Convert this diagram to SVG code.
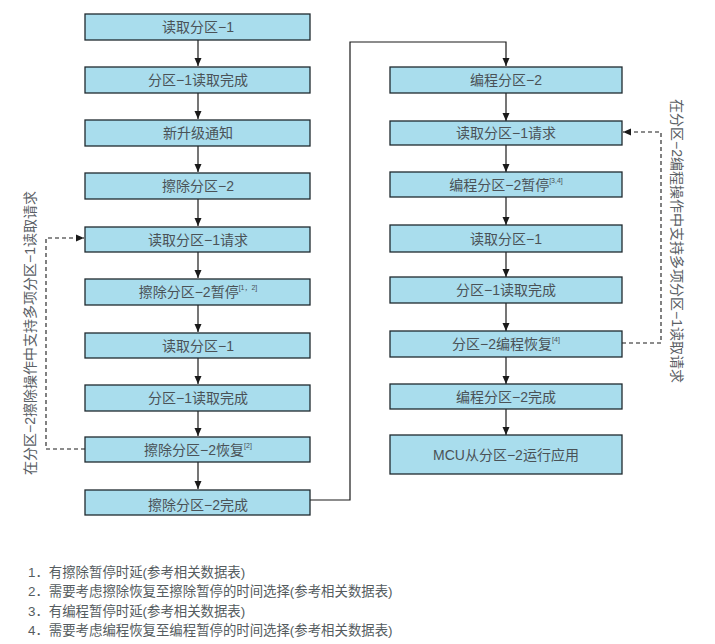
<svg xmlns="http://www.w3.org/2000/svg" width="715" height="644" viewBox="0 0 715 644">
<style>
.box{fill:#a9dded;stroke:#1f2a2e;stroke-width:1.3}
.t{font-family:"Liberation Sans","Noto Sans CJK SC",sans-serif;font-size:14px;fill:#4a5257;text-anchor:middle;dominant-baseline:central}
.sup{font-size:7px}
.ln{fill:none;stroke:#1a1a1a;stroke-width:1.2}
.dl{fill:none;stroke:#1a1a1a;stroke-width:1.1;stroke-dasharray:4 3}
.side{font-family:"Liberation Sans","Noto Sans CJK SC",sans-serif;font-size:14px;fill:#5a6065;text-anchor:middle;dominant-baseline:central}
.note{font-family:"Liberation Sans","Noto Sans CJK SC",sans-serif;font-size:13.4px;fill:#555c60}
</style>
<defs>
<marker id="ah" viewBox="0 0 8 8" refX="8" refY="4" markerWidth="8" markerHeight="8" markerUnits="userSpaceOnUse" orient="auto">
<path d="M0,0.5 L8,4 L0,7.5 Z" fill="#1a1a1a"/>
</marker>
</defs>
<g id="connectors">
<line class="ln" x1="198" y1="40" x2="198" y2="66" marker-end="url(#ah)"/>
<line class="ln" x1="198" y1="93" x2="198" y2="119" marker-end="url(#ah)"/>
<line class="ln" x1="198" y1="146" x2="198" y2="172" marker-end="url(#ah)"/>
<line class="ln" x1="198" y1="199" x2="198" y2="226" marker-end="url(#ah)"/>
<line class="ln" x1="198" y1="252" x2="198" y2="278" marker-end="url(#ah)"/>
<line class="ln" x1="198" y1="305" x2="198" y2="332" marker-end="url(#ah)"/>
<line class="ln" x1="198" y1="358" x2="198" y2="384" marker-end="url(#ah)"/>
<line class="ln" x1="198" y1="411" x2="198" y2="436" marker-end="url(#ah)"/>
<line class="ln" x1="198" y1="462" x2="198" y2="489" marker-end="url(#ah)"/>
<polyline class="ln" points="310,500 350,500 350,42 506,42 506,66" marker-end="url(#ah)"/>
<line class="ln" x1="506" y1="93" x2="506" y2="121" marker-end="url(#ah)"/>
<line class="ln" x1="506" y1="145" x2="506" y2="172" marker-end="url(#ah)"/>
<line class="ln" x1="506" y1="197" x2="506" y2="225" marker-end="url(#ah)"/>
<line class="ln" x1="506" y1="252" x2="506" y2="277" marker-end="url(#ah)"/>
<line class="ln" x1="506" y1="303" x2="506" y2="331" marker-end="url(#ah)"/>
<line class="ln" x1="506" y1="357" x2="506" y2="384" marker-end="url(#ah)"/>
<line class="ln" x1="506" y1="409" x2="506" y2="435" marker-end="url(#ah)"/>
<polyline class="dl" points="85,449 46,449 46,238 84,238" marker-end="url(#ah)"/>
<polyline class="dl" points="622,343 661,343 661,132 623,132" marker-end="url(#ah)"/>
</g>
<g id="L1"><rect class="box" x="85" y="14" width="225" height="26"/><text class="t" x="198" y="27">读取分区−1</text></g>
<g id="L2"><rect class="box" x="85" y="67" width="225" height="26"/><text class="t" x="198" y="80">分区−1读取完成</text></g>
<g id="L3"><rect class="box" x="85" y="120" width="225" height="26"/><text class="t" x="198" y="133">新升级通知</text></g>
<g id="L4"><rect class="box" x="85" y="173" width="225" height="26"/><text class="t" x="198" y="186">擦除分区−2</text></g>
<g id="L5"><rect class="box" x="85" y="227" width="225" height="25"/><text class="t" x="198" y="239.5">读取分区−1请求</text></g>
<g id="L6"><rect class="box" x="85" y="279" width="225" height="26"/><text class="t" x="198" y="292">擦除分区−2暂停<tspan class="sup" dy="-5">[1，2]</tspan></text></g>
<g id="L7"><rect class="box" x="85" y="333" width="225" height="25"/><text class="t" x="198" y="345.5">读取分区−1</text></g>
<g id="L8"><rect class="box" x="85" y="385" width="225" height="26"/><text class="t" x="198" y="398">分区−1读取完成</text></g>
<g id="L9"><rect class="box" x="85" y="437" width="225" height="25"/><text class="t" x="198" y="449.5">擦除分区−2恢复<tspan class="sup" dy="-5">[2]</tspan></text></g>
<g id="L10"><rect class="box" x="85" y="490" width="225" height="25"/><text class="t" x="198" y="505">擦除分区−2完成</text></g>
<g id="R1"><rect class="box" x="390" y="67" width="232" height="26"/><text class="t" x="506" y="80">编程分区−2</text></g>
<g id="R2"><rect class="box" x="390" y="121" width="232" height="24"/><text class="t" x="506" y="133">读取分区−1请求</text></g>
<g id="R3"><rect class="box" x="390" y="172" width="232" height="25"/><text class="t" x="506" y="184.5">编程分区−2暂停<tspan class="sup" dy="-5">[3,4]</tspan></text></g>
<g id="R4"><rect class="box" x="390" y="225" width="232" height="27"/><text class="t" x="506" y="238.5">读取分区−1</text></g>
<g id="R5"><rect class="box" x="390" y="277" width="232" height="26"/><text class="t" x="506" y="290">分区−1读取完成</text></g>
<g id="R6"><rect class="box" x="390" y="331" width="232" height="26"/><text class="t" x="506" y="344">分区−2编程恢复<tspan class="sup" dy="-5">[4]</tspan></text></g>
<g id="R7"><rect class="box" x="390" y="384" width="232" height="25"/><text class="t" x="506" y="396.5">编程分区−2完成</text></g>
<g id="R8"><rect class="box" x="390" y="435" width="232" height="39"/><text class="t" x="506" y="454.5">MCU从分区−2运行应用</text></g>
<g id="labels">
<text class="side" transform="translate(30,333) rotate(-90)">在分区−2擦除操作中支持多项分区−1读取请求</text>
<text class="side" transform="translate(677,241) rotate(90)">在分区−2编程操作中支持多项分区−1读取请求</text>
</g>
<g id="notes">
<text class="note" x="28" y="577">1．有擦除暂停时延(参考相关数据表)</text>
<text class="note" x="28" y="596">2．需要考虑擦除恢复至擦除暂停的时间选择(参考相关数据表)</text>
<text class="note" x="28" y="616">3．有编程暂停时延(参考相关数据表)</text>
<text class="note" x="28" y="635">4．需要考虑编程恢复至编程暂停的时间选择(参考相关数据表)</text>
</g>
</svg>
